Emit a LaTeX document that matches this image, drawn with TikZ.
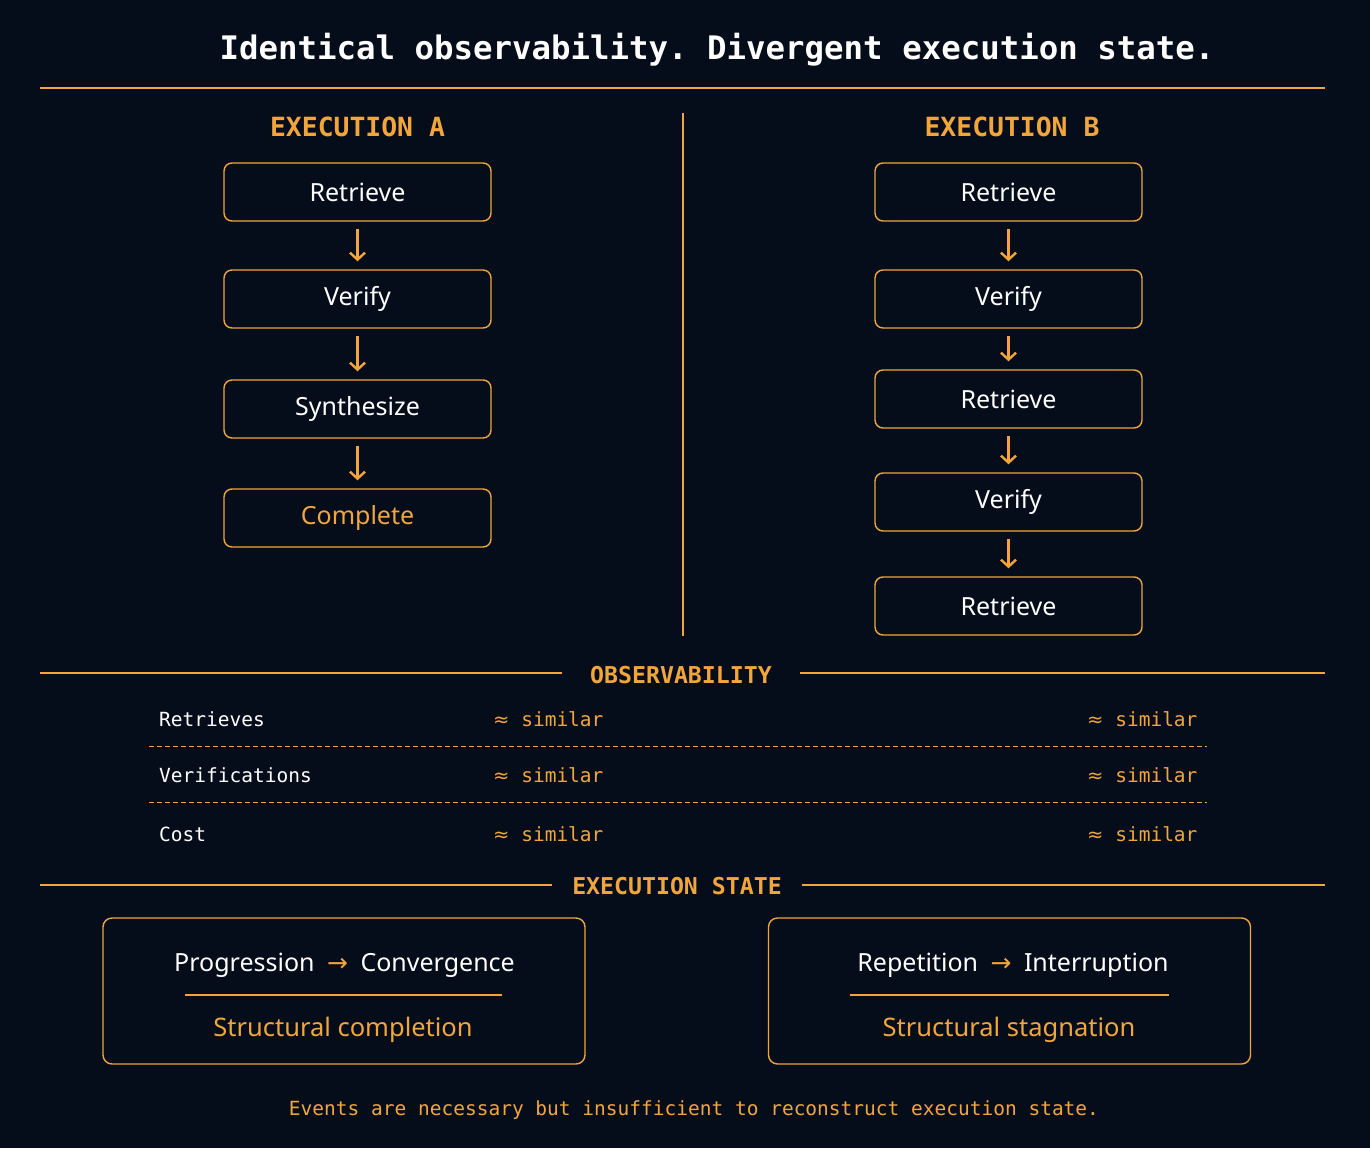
\documentclass[tikz,border=0pt]{standalone}
\usepackage{fontspec}
\setmainfont{Noto Sans}
\setmonofont{DejaVu Sans Mono}
\newfontfamily\arrowfont{DejaVu Sans}
\usetikzlibrary{arrows.meta, positioning}
\definecolor{accent}{HTML}{F2A53A}
\definecolor{night}{HTML}{050D1A}

\begin{document}
\begin{tikzpicture}[x=1pt, y=-1pt,
    stepbox/.style={draw=accent, line width=1.4pt, rounded corners=8pt,
      minimum width=267pt, minimum height=58pt, inner sep=0pt,
      font=\fontsize{25}{29}\selectfont},
    flow/.style={accent, line width=2.4pt, -{Straight Barb[length=7pt,width=15pt]},
      shorten >=8pt, shorten <=7pt},
    rule/.style={accent, line width=1.3pt},
    head/.style={text=accent, font=\ttfamily\bfseries\fontsize{23.2}{28}\selectfont},
    metric/.style={anchor=west, inner xsep=0pt, text=white, font=\ttfamily\fontsize{19.5}{24}\selectfont},
    approx/.style={anchor=west, inner xsep=0pt, text=accent, font=\ttfamily\fontsize{19.5}{24}\selectfont},
    statebox/.style={draw=accent, line width=1.4pt, rounded corners=9pt,
      minimum width=482pt, minimum height=146pt}]
  \fill[night] (0,0) rectangle (1370,1148);

  % title
  \node[text=white, font=\ttfamily\bfseries\fontsize{32.4}{38}\selectfont] (title) at (717,50)
    {Identical observability. Divergent execution state.};
  \draw[rule] (40,88) -- (1325,88);
  \draw[rule] (683,113) -- (683,636);

  % two executions
  \node[head, font=\ttfamily\bfseries\fontsize{26.4}{30}\selectfont] (headA) at (357.5,127) {EXECUTION A};
  \node[head, font=\ttfamily\bfseries\fontsize{26.4}{30}\selectfont] (headB) at (1012,127) {EXECUTION B};
  \foreach \lbl/\y/\c [count=\i] in {Retrieve/192/white, Verify/299/white,
      Synthesize/409/white, Complete/518/accent}
    \node[stepbox, text=\c] (a\i) at (357.5,\y) {\lbl};
  \foreach \lbl/\y [count=\i] in {Retrieve/192, Verify/299, Retrieve/399,
      Verify/502, Retrieve/606}
    \node[stepbox, text=white] (b\i) at (1008.5,\y) {\lbl};
  \foreach \i/\j in {1/2, 2/3, 3/4} \draw[flow] (a\i) -- (a\j);
  \foreach \i/\j in {1/2, 2/3, 3/4, 4/5} \draw[flow] (b\i) -- (b\j);

  % observability
  \node[head, inner xsep=28pt] (obs) at (681,675) {OBSERVABILITY};
  \draw[rule] (40,673) -- (obs.west |- 0,673);
  \draw[rule] (obs.east |- 0,673) -- (1325,673);
  \foreach \lbl/\y [count=\i] in {Retrieves/719, Verifications/775, Cost/834} {
    \node[metric] (m\i) at (159,\y) {\lbl};
    \node[approx] (sa\i) at (493,\y) {{\arrowfont ≈} similar};
    \node[approx] (sb\i) at (1087,\y) {{\arrowfont ≈} similar};
  }
  \foreach \y in {746, 802}
    \draw[accent, line width=1pt, dash pattern=on 5pt off 3pt] (149,\y) -- (1207,\y);

  % execution state
  \node[head, inner xsep=20pt] (state) at (677,886) {EXECUTION STATE};
  \draw[rule] (40,885) -- (state.west |- 0,885);
  \draw[rule] (state.east |- 0,885) -- (1325,885);
  \node[statebox] (stA) at (344,991) {};
  \node[statebox] (stB) at (1009.5,991) {};
  \node[text=white, font=\fontsize{25}{29}\selectfont] (pathA) at (344.5,965)
    {Progression\hspace{0.5em}{\arrowfont\color{accent}→}\hspace{0.5em}Convergence};
  \node[text=white, font=\fontsize{25}{29}\selectfont] (pathB) at (1013,965)
    {Repetition\hspace{0.5em}{\arrowfont\color{accent}→}\hspace{0.5em}Interruption};
  \draw[rule] (185,995) -- (502,995);
  \draw[rule] (850,995) -- (1169,995);
  \node[text=accent, font=\fontsize{25.5}{29}\selectfont] (endA) at (343,1030) {Structural completion};
  \node[text=accent, font=\fontsize{25.5}{29}\selectfont] (endB) at (1009,1030) {Structural stagnation};

  % footnote
  \node[text=accent, font=\ttfamily\fontsize{19.5}{24}\selectfont] (note) at (694,1110)
    {Events are necessary but insufficient to reconstruct execution state.};
\end{tikzpicture}
\end{document}
